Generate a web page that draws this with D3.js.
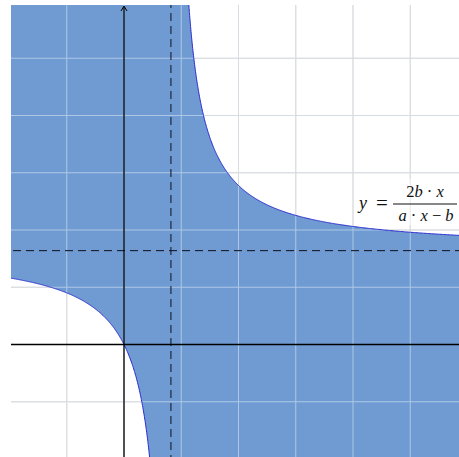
<!DOCTYPE html>
<html>
<head>
<meta charset="utf-8">
<script src="https://cdn.jsdelivr.net/npm/d3@7"></script>
<style>
  html, body { margin: 0; padding: 0; background: #fff; }
  svg { display: block; }
</style>
</head>
<body>
<svg id="chart" width="459" height="457"></svg>
<script>
// Parameters of y = 2b·x / (a·x − b)
const paramA = 1.22;
const paramB = 1;
// Visible window (data units) and grid positions
const xDomain = [-2, 6];
const yDomain = [-2, 6];
const gridX = [-2, -1, 0, 1, 2, 3, 4, 5, 6];
const gridY = [-2, -1, 0, 1, 2, 3, 4, 5, 6];

const W = 459, H = 457;
const svg = d3.select("#chart");
const x = d3.scaleLinear().domain(xDomain).range([9.5, 467.5]);
const y = d3.scaleLinear().domain(yDomain).range([459, 1]);

const f = t => 2 * paramB * t / (paramA * t - paramB);
const finv = v => paramB * v / (paramA * v - 2 * paramB);
const xAsym = paramB / paramA;
const yAsym = 2 * paramB / paramA;

svg.append("defs").append("clipPath").attr("id", "plotClip")
  .append("rect").attr("x", 11).attr("y", 5).attr("width", W - 11).attr("height", H - 5);

const g = svg.append("g").attr("clip-path", "url(#plotClip)");

// Branch samples
const yLo = yDomain[0] - 0.2, yHi = yDomain[1] + 0.2;
const xLo = xDomain[0] - 0.2, xHi = xDomain[1] + 0.2;
const leftEnd = finv(yLo);    // left branch meets bottom
const rightStart = finv(yHi); // right branch meets top
const N = 400;
const leftBranch = d3.range(N + 1).map(i => {
  const t = xLo + (leftEnd - xLo) * i / N;
  return [t, f(t)];
});
const rightBranch = d3.range(N + 1).map(i => {
  const t = rightStart + (xHi - rightStart) * Math.pow(i / N, 2);
  return [t, f(t)];
});

// Shaded region between the two branches
const region = [[xLo, yHi]]
  .concat(leftBranch)
  .concat([[xHi, yLo]])
  .concat(rightBranch.slice().reverse())
  .concat([[xLo, yHi]]);

const line = d3.line().x(d => x(d[0])).y(d => y(d[1]));

// grid under fill (visible on white)
const gridG = g.append("g");
gridX.forEach(v => gridG.append("line")
  .attr("x1", x(v)).attr("x2", x(v)).attr("y1", 0).attr("y2", H)
  .attr("stroke", "#c8c8c8").attr("stroke-width", 1));
gridY.forEach(v => gridG.append("line")
  .attr("x1", 0).attr("x2", W).attr("y1", y(v)).attr("y2", y(v))
  .attr("stroke", "#c8c8c8").attr("stroke-width", 1));

g.append("path").attr("d", line(region) + "Z")
  .attr("fill", "#6f9bd2").attr("stroke", "none");

// light grid over fill
const gridTop = g.append("g").attr("opacity", 0.55);
gridX.forEach(v => gridTop.append("line")
  .attr("x1", x(v)).attr("x2", x(v)).attr("y1", 0).attr("y2", H)
  .attr("stroke", "#e4ecf8").attr("stroke-width", 1));
gridY.forEach(v => gridTop.append("line")
  .attr("x1", 0).attr("x2", W).attr("y1", y(v)).attr("y2", y(v))
  .attr("stroke", "#e4ecf8").attr("stroke-width", 1));

// curve branches
[leftBranch, rightBranch].forEach(br => g.append("path")
  .attr("d", line(br)).attr("fill", "none")
  .attr("stroke", "#2a2ad0").attr("stroke-width", 1));

// asymptotes
g.append("line").attr("x1", x(xAsym)).attr("x2", x(xAsym)).attr("y1", 0).attr("y2", H)
  .attr("stroke", "#10101c").attr("stroke-width", 1).attr("stroke-dasharray", "8,5");
g.append("line").attr("x1", 0).attr("x2", W).attr("y1", y(yAsym)).attr("y2", y(yAsym))
  .attr("stroke", "#10101c").attr("stroke-width", 1).attr("stroke-dasharray", "8,5");

// axes
g.append("line").attr("x1", 0).attr("x2", W).attr("y1", y(0)).attr("y2", y(0))
  .attr("stroke", "#000").attr("stroke-width", 1.3);
g.append("line").attr("x1", x(0)).attr("x2", x(0)).attr("y1", 7).attr("y2", H)
  .attr("stroke", "#000").attr("stroke-width", 1.3);
// arrow tip on y axis
g.append("path")
  .attr("d", `M${x(0) - 3},${11} L${x(0)},${6} L${x(0) + 3},${11}`)
  .attr("fill", "none").attr("stroke", "#000").attr("stroke-width", 1);

// formula label
const lab = svg.append("g").attr("font-family", "'Liberation Serif', 'Times New Roman', serif")
  .attr("font-size", 16.5).attr("fill", "#111");
lab.append("rect").attr("x", 354).attr("y", 179).attr("width", 105).attr("height", 46)
  .attr("fill", "#fff").attr("opacity", 0.5);
lab.append("text").attr("x", 359).attr("y", 209).attr("font-size", 18)
  .attr("font-style", "italic").text("y");
lab.append("text").attr("x", 376).attr("y", 210).attr("font-size", 21).text("=");
const num = lab.append("text").attr("x", 425).attr("y", 197).attr("text-anchor", "middle");
num.append("tspan").text("2");
num.append("tspan").attr("font-style", "italic").text("b");
num.append("tspan").text(" · ");
num.append("tspan").attr("font-style", "italic").text("x");
lab.append("line").attr("x1", 393).attr("x2", 457).attr("y1", 204).attr("y2", 204)
  .attr("stroke", "#111").attr("stroke-width", 1);
const den = lab.append("text").attr("x", 426).attr("y", 221).attr("text-anchor", "middle");
den.append("tspan").attr("font-style", "italic").text("a");
den.append("tspan").text(" · ");
den.append("tspan").attr("font-style", "italic").text("x");
den.append("tspan").text(" − ");
den.append("tspan").attr("font-style", "italic").text("b");
</script>
</body>
</html>
